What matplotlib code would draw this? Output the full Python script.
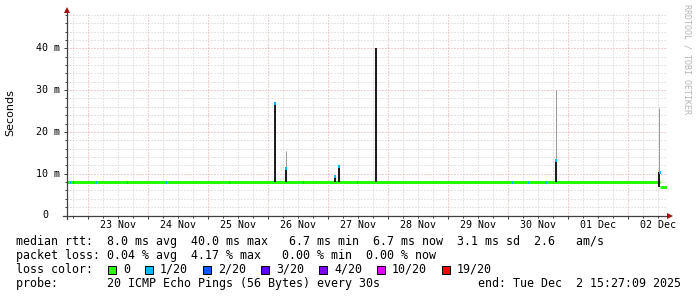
import matplotlib
matplotlib.use('Agg')
import matplotlib.pyplot as plt
from matplotlib.patches import Rectangle

# time axis in days since 22 Nov 2025 00:00
START_DAY = 0.644   # 22 Nov 15:27
END_DAY = 10.644    # 02 Dec 15:27

day_labels = ['23 Nov', '24 Nov', '25 Nov', '26 Nov', '27 Nov',
              '28 Nov', '29 Nov', '30 Nov', '01 Dec', '02 Dec']
y_ticks = [0, 10, 20, 30, 40]
y_tick_labels = ['0', '10 m', '20 m', '30 m', '40 m']

# median rtt (ms), piecewise constant
base_start = [0.644, 10.53]
base_end = [10.53, 10.644]
base_ms = [8.0, 6.7]

# spikes: time, low end, top of dark smoke, top of light smoke, lost pings
spike_day = [4.109, 4.288, 5.106, 5.173, 5.790, 8.795, 10.515]
spike_low = [8.0, 8.0, 8.0, 8.0, 8.0, 8.0, 6.7]
spike_top = [27.0, 11.4, 9.4, 11.8, 40.0, 13.2, 10.4]
spike_max = [27.0, 15.5, 9.4, 11.8, 40.0, 30.0, 25.7]
spike_loss = [1, 1, 1, 1, 0, 1, 1]

# short intervals with 1/20 loss on the median line
loss1_day = [0.699, 0.749, 1.133, 1.650, 2.301, 3.353, 4.589,
             5.490, 8.078, 8.345, 8.645]

loss_labels = ['0', '1/20', '2/20', '3/20', '4/20', '10/20', '19/20']
loss_colors = ['#26ff00', '#00b8ff', '#0059ff', '#5e00ff',
               '#7e00ff', '#dd00ff', '#ff0000']

legend_lines = [
    'median rtt:  8.0 ms avg  40.0 ms max   6.7 ms min  6.7 ms now  3.1 ms sd  2.6   am/s',
    'packet loss: 0.04 % avg  4.17 % max   0.00 % min  0.00 % now',
    'loss color:',
    'probe:       20 ICMP Echo Pings (56 Bytes) every 30s              end: Tue Dec  2 15:27:09 2025',
]

W, H = 697, 297
MONO = 'DejaVu Sans Mono'
AXIS_COL = '#404040'
ARROW_COL = '#a01010'

fig = plt.figure(figsize=(W / 100, H / 100), dpi=100)
fig.patch.set_facecolor('white')
ax = fig.add_axes([67 / W, (H - 215.5) / H, 599.7 / W, 202.7 / H])
ax.set_xlim(START_DAY, END_DAY)
ax.set_ylim(0, 48.5)

px = (END_DAY - START_DAY) / 599.7  # one pixel in days

# grid
ax.set_xticks(range(1, 11))
ax.set_xticks([d / 4 for d in range(3, 43)], minor=True)
ax.set_yticks(y_ticks)
ax.set_yticks(range(0, 49, 2), minor=True)
ax.grid(which='minor', color='#cccccc', ls=(0, (1, 2)), lw=0.72)
ax.grid(which='major', color='#e6a0a0', ls=(0, (1, 2)), lw=0.72)
ax.set_axisbelow(True)
ax.tick_params(which='both', direction='out', color=AXIS_COL, width=0.72,
               labelbottom=False, labelleft=False)
ax.tick_params(which='major', length=2.5)
ax.tick_params(which='minor', length=1.5)
for s in ax.spines.values():
    s.set_visible(False)

# median line
ax.hlines(base_ms, base_start, base_end, color=loss_colors[0], lw=2.2,
          capstyle='butt', zorder=3)
ax.bar(loss1_day, 0.7, bottom=7.65, width=px, color=loss_colors[1],
       zorder=4)

# smoke spikes
light = [(d, t, m) for d, t, m in zip(spike_day, spike_top, spike_max) if m > t]
ax.vlines([d for d, t, m in light], [t for d, t, m in light],
          [m for d, t, m in light], color='#9c9c9c', lw=0.75, zorder=3)
ax.bar(spike_day, [t - l for t, l in zip(spike_top, spike_low)],
       bottom=spike_low, width=2 * px, color='#1e1e1e', zorder=4)
for d, t, n in zip(spike_day, spike_top, spike_loss):
    if n > 0:
        ax.bar(d + 0.6 * px, 0.75, bottom=t - 0.5, width=2 * px,
               color=loss_colors[n], zorder=5)

# axes with arrows
ax.plot([-0.007, 1.004], [0, 0], color=AXIS_COL, lw=0.9,
        transform=ax.transAxes, clip_on=False, zorder=6)
ax.plot([0, 0], [-0.016, 1.01], color=AXIS_COL, lw=0.9,
        transform=ax.transAxes, clip_on=False, zorder=6)
ax.plot([1.0055], [0], marker='>', ms=4.5, color=ARROW_COL, mew=0,
        transform=ax.transAxes, clip_on=False, zorder=7)
ax.plot([0], [1.012], marker='^', ms=4.5, color=ARROW_COL, mew=0,
        transform=ax.transAxes, clip_on=False, zorder=7)

# tick labels
for v, lab in zip(y_ticks, y_tick_labels):
    off = -7 if lab != '0' else -19
    ax.annotate(lab, xy=(0, v), xycoords=ax.get_yaxis_transform(),
                xytext=(off, 0), textcoords='offset pixels',
                ha='right', va='center', family=MONO, fontsize=7.2)
for i, lab in enumerate(day_labels):
    ax.annotate(lab, xy=(1.5 + i, 0), xycoords=ax.get_xaxis_transform(),
                xytext=(0, -9.5), textcoords='offset pixels',
                ha='center', va='center', family=MONO, fontsize=7.2)

fig.text(10 / W, 1 - 113 / H, 'Seconds', rotation=90, ha='center',
         va='center', fontsize=8, family='DejaVu Sans')
fig.text(687 / W, 1 - 4 / H, 'RRDTOOL / TOBI OETIKER', rotation=270,
         ha='center', va='top', fontsize=6, family=MONO, color='#b4b4b4')

# legend block
baselines = [245, 259, 273, 287]
for line, yb in zip(legend_lines, baselines):
    fig.text(16 / W, 1 - yb / H, line, family=MONO, fontsize=8.37,
             va='baseline')

x = 108
for lab, col in zip(loss_labels, loss_colors):
    fig.add_artist(Rectangle((x / W, 1 - 274 / H), 8 / W, 8 / H,
                             transform=fig.transFigure, facecolor=col,
                             edgecolor='black', lw=0.72))
    fig.text((x + 15) / W, 1 - 273 / H, lab, family=MONO, fontsize=8.37,
             va='baseline')
    x += 15 + 7 * len(lab) + 15

fig.savefig('out.png', dpi=100)
